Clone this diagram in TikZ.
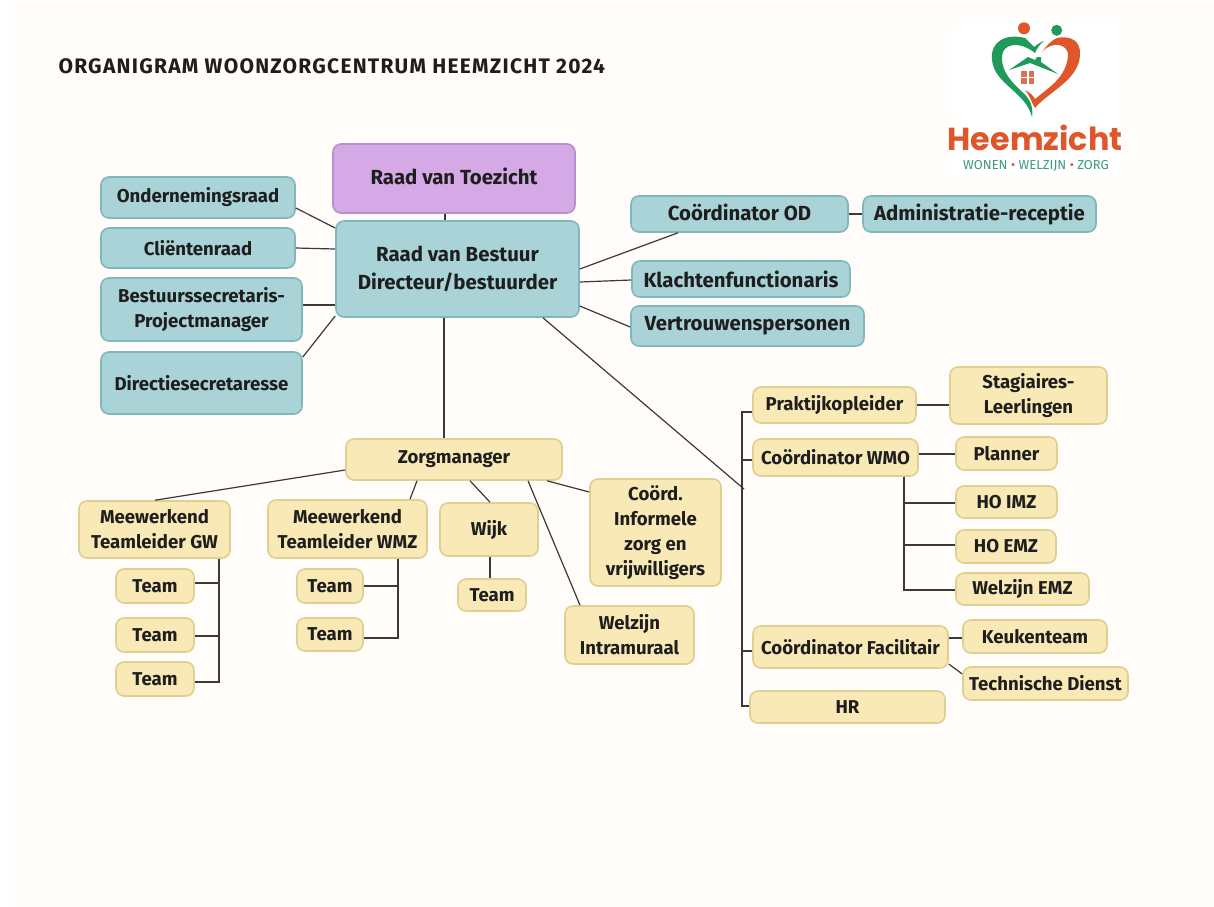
\documentclass[tikz,border=0pt]{standalone}
\usepackage{fontspec}
\setmainfont{Fira Sans}
\newfontfamily\titlefont[LetterSpace=6]{Fira Sans}
\newfontfamily\logofont{Poppins}
\usetikzlibrary{calc}
\definecolor{pagebg}{HTML}{FFFCF9}
\definecolor{tealfill}{HTML}{A9D3D6}
\definecolor{tealline}{HTML}{7FB8BC}
\definecolor{yelfill}{HTML}{F8E9B6}
\definecolor{yelline}{HTML}{DDD091}
\definecolor{purfill}{HTML}{D5A9E6}
\definecolor{purline}{HTML}{B88FCB}
\definecolor{ink}{HTML}{1E1E1E}
\definecolor{wire}{HTML}{3A3A3A}
\definecolor{logog}{HTML}{1F9A5B}
\definecolor{logoo}{HTML}{E0562B}
\definecolor{logow}{HTML}{D9705A}
\definecolor{logot}{HTML}{3E9A80}
\tikzset{
  boxbase/.style={rounded corners=8pt,line width=1.6pt,align=center,text=ink,font=\bfseries\fontsize{18.6}{25}\selectfont,inner sep=0pt},
  teal/.style={boxbase,fill=tealfill,draw=tealline},
  yel/.style={boxbase,fill=yelfill,draw=yelline},
  pur/.style={boxbase,fill=purfill,draw=purline},
  bigtxt/.style={font=\bfseries\fontsize{20.4}{28}\selectfont},
  wirel/.style={draw=wire,line width=1.2pt},
}
% #1 name, #2 style, #3 x1, #4 y1, #5 x2, #6 y2, #7 text (pixels, y down)
\newcommand{\bx}[7]{\node[#2,minimum width=#5pt-#3pt,minimum height=#6pt-#4pt] (#1) at ({(#3+#5)/2},{(#4+#6)/2}) {#7};}
\begin{document}
\begin{tikzpicture}[x=1pt,y=-1pt]
\useasboundingbox (0,0) rectangle (1214,906);
\fill[white] (0,0) rectangle (1214,906);
\fill[pagebg] (9,5) rectangle (1214,906);
\node[anchor=west,font=\titlefont\bfseries\fontsize{21}{24}\selectfont,text=ink] (title) at (55,66) {ORGANIGRAM WOONZORGCENTRUM HEEMZICHT 2024};
% logo
\fill[white] (950,22) rectangle (1122,176);
\fill[logoo] (1024,28.3) circle (6);
\fill[logog] (1056.7,30.3) circle (5.5);
\fill[logog] (1025,38) .. controls (1005,33) and (990,42) .. (992,60) .. controls (994,84) and (1026,92) .. (1032,117) .. controls (1034,100) and (1025,95) .. (1017,87) .. controls (1008,78) and (1001,68) .. (1002,56) .. controls (1003,43) and (1020,41) .. (1035,53) .. controls (1037,48) and (1040,44) .. (1044,41) .. controls (1040,42) and (1037,45) .. (1034,47) .. controls (1031,44) and (1028,41) .. (1025,38) -- cycle;
\fill[logoo] (1042,52) .. controls (1047,45) and (1052,40) .. (1057,38) .. controls (1072,35) and (1081,42) .. (1080,55) .. controls (1079,80) and (1048,92) .. (1035,108) .. controls (1031,102) and (1030,95) .. (1025,90) .. controls (1030,93) and (1033,95) .. (1035,99) .. controls (1048,88) and (1066,78) .. (1068,56) .. controls (1069,44) and (1052,40) .. (1042,52) -- cycle;
\fill[logog] (1009,70) -- (1028,57) -- (1035,60) -- (1037,57) -- (1041,57) -- (1041,62) -- (1058,74) -- (1030,63) -- cycle;
\fill[logow] (1021,71) rectangle (1026.5,76.5);
\fill[logow] (1028.5,71) rectangle (1034,76.5);
\fill[logow] (1021,78.2) rectangle (1026.5,83.7);
\fill[logow] (1028.5,78.2) rectangle (1034,83.7);
\node[font=\logofont\bfseries\fontsize{31.8}{34}\selectfont,text=logoo] (logoname) at (1035,138) {Heemzicht};
\node[font=\fontsize{13}{15}\selectfont,text=logot] (logotag) at (1036,166) {WONEN {\color{logoo}•} WELZIJN {\color{logoo}•} ZORG};
% boxes
\bx{rvt}{pur,bigtxt}{333}{144}{575}{213}{\raisebox{4pt}{Raad van Toezicht}}
\bx{rvb}{teal,bigtxt}{336}{221}{579}{317}{Raad van Bestuur\\Directeur/bestuurder}
\bx{ond}{teal}{101}{177}{295}{218}{Ondernemingsraad}
\bx{cli}{teal}{101}{228}{295}{268}{Cliëntenraad}
\bx{bes}{teal}{101}{278}{302}{341}{Bestuurssecretaris-\\Projectmanager}
\bx{dir}{teal}{101}{352}{302}{414}{Directiesecretaresse}
\bx{od}{teal,bigtxt}{631}{196}{848}{232}{\raisebox{4pt}{Coördinator OD}}
\bx{adm}{teal,bigtxt}{863}{196}{1096}{232}{\raisebox{4pt}{Administratie-receptie}}
\bx{kla}{teal,bigtxt}{632}{261}{850}{297}{Klachtenfunctionaris}
\bx{ver}{teal,bigtxt}{631}{306}{864}{346}{Vertrouwenspersonen}
\bx{zm}{yel}{346}{439}{562}{480}{Zorgmanager}
\bx{gw}{yel}{79}{501}{230}{558}{Meewerkend\\Teamleider GW}
\bx{t1}{yel}{116}{569}{194}{603}{Team}
\bx{t2}{yel}{116}{618}{194}{652}{Team}
\bx{t3}{yel}{116}{662}{194}{696}{Team}
\bx{wmz}{yel}{268}{500}{427}{558}{Meewerkend\\Teamleider WMZ}
\bx{t4}{yel}{297}{569}{363}{603}{Team}
\bx{t5}{yel}{297}{618}{363}{651}{Team}
\bx{wijk}{yel}{440}{503}{538}{556}{Wijk}
\bx{t6}{yel}{458}{579}{526}{611}{Team}
\bx{inf}{yel}{590}{479}{721}{586}{Coörd.\\Informele\\zorg en\\vrijwilligers}
\bx{wel}{yel}{565}{606}{694}{664}{Welzijn\\Intramuraal}
\bx{pra}{yel}{753}{387}{916}{423}{Praktijkopleider}
\bx{sta}{yel}{950}{367}{1107}{424}{Stagiaires-\\Leerlingen}
\bx{wmo}{yel}{753}{439}{918}{476}{Coördinator WMO}
\bx{pla}{yel}{956}{437}{1057}{470}{Planner}
\bx{imz}{yel}{956}{486}{1057}{518}{HO IMZ}
\bx{emz}{yel}{956}{530}{1056}{563}{HO EMZ}
\bx{wez}{yel}{956}{573}{1089}{605}{Welzijn EMZ}
\bx{fac}{yel}{753}{626}{948}{668}{Coördinator Facilitair}
\bx{keu}{yel}{963}{620}{1107}{653}{Keukenteam}
\bx{tec}{yel}{963}{667}{1128}{700}{Technische Dienst}
\bx{hr}{yel}{750}{691}{945}{723}{HR}
% free junctions
\coordinate (trunkT) at (742,412);
\coordinate (trunkB) at (742,706);
\coordinate (diagE) at (744,489);
\coordinate (wmoB) at (904,590);
\begin{scope}[wirel]
\draw (rvt.south -| 445,0) -- (rvb.north -| 445,0);
\draw (ond.east |- 0,208) -- (rvb.west |- 0,228);
\draw (cli.east |- 0,248) -- (rvb.west |- 0,249);
\draw (bes.east |- 0,305) -- (rvb.west |- 0,305);
\draw (dir.east |- 0,357) -- (rvb.west |- 0,316);
\draw (rvb.east |- 0,269) -- (od.south -| 678,0);
\draw (rvb.east |- 0,282) -- (kla.west |- 0,280);
\draw (rvb.east |- 0,306) -- (ver.west |- 0,327);
\draw (od.east |- 0,214) -- (adm.west |- 0,214);
\draw (rvb.south -| 444,0) -- (zm.north -| 444,0);
\draw (rvb.south -| 543,0) -- (diagE);
\draw (zm.west |- 0,470) -- (gw.north -| 155,0);
\draw (zm.south -| 417,0) -- (wmz.north -| 410,0);
\draw (zm.south -| 470,0) -- (wijk.north -| 490,0);
\draw (zm.south -| 528,0) -- (wel.north -| 580,0);
\draw (zm.south -| 547,0) -- (inf.west |- 0,492);
\draw (wijk.south -| 490,0) -- (t6.north -| 490,0);
\draw (gw.south -| 219,0) -- (219,682) -- (t3.east |- 0,682);
\draw (t1.east |- 0,583) -- (219,583);
\draw (t2.east |- 0,636) -- (219,636);
\draw (wmz.south -| 398,0) -- (398,638) -- (t5.east |- 0,638);
\draw (t4.east |- 0,586) -- (398,586);
\draw (pra.west |- 0,412) -- (trunkT) -- (trunkB) -- (hr.west |- 0,706);
\draw (wmo.west |- 0,460) -- (742,460);
\draw (fac.west |- 0,651) -- (742,651);
\draw (pra.east |- 0,405) -- (sta.west |- 0,405);
\draw (wmo.east |- 0,454) -- (pla.west |- 0,454);
\draw (wmo.south -| 904,0) -- (wmoB) -- (wez.west |- 0,590);
\draw (904,503) -- (imz.west |- 0,503);
\draw (904,545) -- (emz.west |- 0,545);
\draw (fac.east |- 0,638) -- (keu.west |- 0,638);
\draw (fac.east |- 0,664) -- (tec.west |- 0,674);
\end{scope}
\end{tikzpicture}
\end{document}
